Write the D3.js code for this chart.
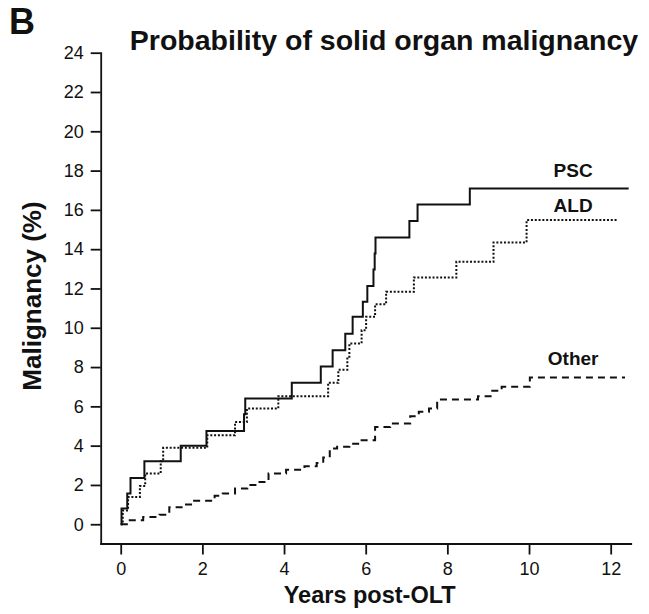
<!DOCTYPE html>
<html>
<head>
<meta charset="utf-8">
<script src="https://cdn.jsdelivr.net/npm/d3@7"></script>
<style>
  html, body { margin: 0; padding: 0; background: #fff; }
  svg { display: block; font-family: "Liberation Sans", Arial, Helvetica, sans-serif; }
</style>
</head>
<body>
<svg id="chart" width="649" height="614"></svg>
<script>
// ---- data ----
const pscTimes  = [0, 0.02, 0.16, 0.24, 0.58, 1.47, 2.1, 3.02, 3.05, 4.19, 4.9, 5.19, 5.5, 5.68, 5.93, 6.04, 6.19, 6.22, 6.24, 7.07, 7.27, 8.55, 12.44];
const pscValues = [0, 0.8, 1.56, 2.36, 3.21, 3.99, 4.75, 5.6, 6.4, 7.2, 8.03, 8.86, 9.7, 10.56, 11.32, 12.12, 12.97, 13.78, 14.6, 15.44, 16.28, 17.09, 17.09];

const aldTimes  = [0, 0.05, 0.18, 0.47, 0.6, 0.98, 1.04, 2.12, 2.8, 3.09, 3.86, 5.08, 5.33, 5.55, 5.6, 5.9, 6.01, 6.23, 6.5, 7.18, 8.22, 9.13, 9.94, 12.18];
const aldValues = [0, 0.7, 1.39, 1.95, 2.58, 3.2, 3.89, 4.53, 5.2, 5.89, 6.52, 7.2, 7.86, 8.53, 9.2, 9.88, 10.56, 11.2, 11.83, 12.56, 13.36, 14.34, 15.48, 15.48];

const otherTimes  = [0, 0.15, 0.55, 0.95, 1.19, 1.6, 1.75, 2.3, 2.5, 2.8, 3.1, 3.4, 3.62, 4.05, 4.5, 4.8, 4.96, 5.12, 5.3, 5.6, 5.9, 6.23, 6.6, 7.09, 7.3, 7.55, 7.75, 8.75, 9.1, 9.33, 10.02, 12.35];
const otherValues = [0, 0.2, 0.37, 0.48, 0.87, 1.0, 1.2, 1.45, 1.56, 1.82, 2.0, 2.15, 2.58, 2.78, 2.95, 3.12, 3.4, 3.85, 3.95, 4.1, 4.28, 4.95, 5.13, 5.5, 5.72, 5.89, 6.35, 6.52, 6.79, 7.0, 7.47, 7.47];

const seriesNames = ["PSC", "ALD", "Other"];
const labelTimes  = [11.08, 11.08, 11.08];
const labelValues = [17.67, 15.89, 8.1];

const xTicks = [0, 2, 4, 6, 8, 10, 12];
const yTicks = [0, 2, 4, 6, 8, 10, 12, 14, 16, 18, 20, 22, 24];

const titleText = "Probability of solid organ malignancy";
const panelLetter = "B";
const xTitle = "Years post-OLT";
const yTitle = "Malignancy (%)";

// ---- layout ----
const svg = d3.select("#chart");
const mLeft = 100.7, mRight = 630.7, mTop = 52.7, mBottom = 543.5;

const x = d3.scaleLinear().domain([-0.49, 12.49]).range([mLeft, mRight]);
const y = d3.scaleLinear().domain([-0.98, 24]).range([mBottom, mTop]);

const series = [
  { times: pscTimes, values: pscValues, dash: null },
  { times: aldTimes, values: aldValues, dash: "2,1.8" },
  { times: otherTimes, values: otherValues, dash: "7,5" }
];

// axes
const xAxis = d3.axisBottom(x).tickValues(xTicks).tickSize(11).tickSizeOuter(0).tickPadding(8);
const yAxis = d3.axisLeft(y).tickValues(yTicks).tickSize(10).tickSizeOuter(0).tickPadding(7);

const gx = svg.append("g").attr("transform", `translate(0,${mBottom})`).call(xAxis);
const gy = svg.append("g").attr("transform", `translate(${mLeft},0)`).call(yAxis);

[gx, gy].forEach(g => {
  g.selectAll("path.domain").attr("stroke", "#111").attr("stroke-width", 1.8).attr("stroke-linecap", "square");
  g.selectAll(".tick line").attr("stroke", "#111").attr("stroke-width", 1.8);
  g.selectAll(".tick text").attr("fill", "#111").attr("font-size", 18)
    .attr("font-family", "'Liberation Sans', Arial, Helvetica, sans-serif");
});

// lines
const line = d3.line()
  .x(d => x(d[0]))
  .y(d => y(d[1]))
  .curve(d3.curveStepAfter);

series.forEach(s => {
  const pts = s.times.map((t, i) => [t, s.values[i]]);
  const p = svg.append("path")
    .datum(pts)
    .attr("d", line)
    .attr("fill", "none")
    .attr("stroke", "#111")
    .attr("stroke-width", 2);
  if (s.dash) p.attr("stroke-dasharray", s.dash);
});

// series labels
seriesNames.forEach((name, i) => {
  svg.append("text")
    .attr("x", x(labelTimes[i]))
    .attr("y", y(labelValues[i]))
    .attr("text-anchor", "middle")
    .attr("font-weight", "bold")
    .attr("font-size", 19)
    .attr("fill", "#111")
    .text(name);
});

// titles
svg.append("text")
  .attr("x", 9).attr("y", 34)
  .attr("font-weight", "bold").attr("font-size", 36).attr("fill", "#111")
  .text(panelLetter);

svg.append("text")
  .attr("x", 384).attr("y", 50)
  .attr("text-anchor", "middle")
  .attr("font-weight", "bold").attr("font-size", 28.5).attr("fill", "#111")
  .text(titleText);

svg.append("text")
  .attr("x", (mLeft + mRight) / 2 + 4).attr("y", 603)
  .attr("text-anchor", "middle")
  .attr("font-weight", "bold").attr("font-size", 23.5).attr("fill", "#111")
  .text(xTitle);

svg.append("text")
  .attr("transform", `translate(41,${296}) rotate(-90)`)
  .attr("text-anchor", "middle")
  .attr("font-weight", "bold").attr("font-size", 26).attr("fill", "#111")
  .text(yTitle);
</script>
</body>
</html>
